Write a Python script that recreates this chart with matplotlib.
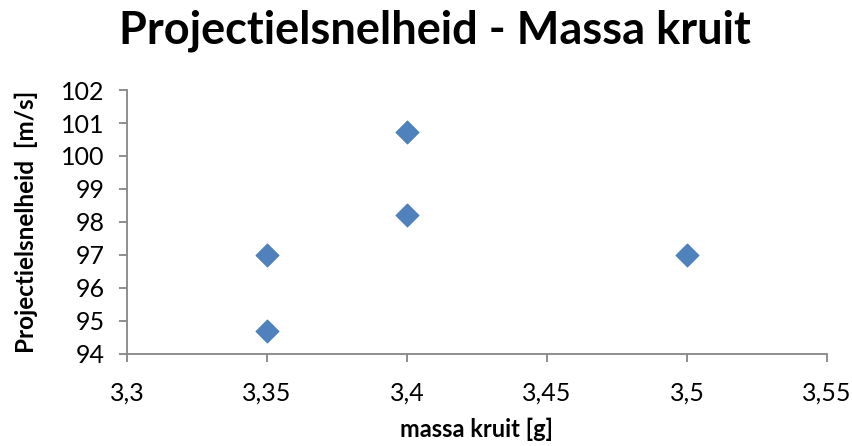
import matplotlib.pyplot as plt
from matplotlib.ticker import FuncFormatter

plt.rcParams["font.family"] = ["Lato", "DejaVu Sans"]

# measured values
massa = [3.35, 3.35, 3.40, 3.40, 3.50]
snelheid = [97.0, 94.7, 100.72, 98.2, 97.0]

x_ticks = [3.3, 3.35, 3.4, 3.45, 3.5, 3.55]
y_ticks = [94, 95, 96, 97, 98, 99, 100, 101, 102]

fig = plt.figure(figsize=(8.53, 4.46), dpi=100)
ax = fig.add_axes([0.1489, 0.2063, 0.8206, 0.5919])

ax.scatter(massa, snelheid, marker="D", s=135, color="#4F81BD",
           edgecolor="#4A7EBB", linewidth=0.8, zorder=3)

ax.set_xlim(3.3, 3.55)
ax.set_ylim(94, 102)
ax.set_xticks(x_ticks)
ax.set_yticks(y_ticks)


def komma(v, pos):
    s = f"{v:.2f}".rstrip("0").rstrip(".")
    return s.replace(".", ",")


ax.xaxis.set_major_formatter(FuncFormatter(komma))

for side in ["top", "right"]:
    ax.spines[side].set_visible(False)
for side in ["left", "bottom"]:
    ax.spines[side].set_color("#868686")
    ax.spines[side].set_linewidth(1.3)

ax.tick_params(axis="both", direction="out", length=6, width=1.3,
               color="#868686", labelsize=18, labelcolor="black")
ax.tick_params(axis="x", pad=14)
ax.tick_params(axis="y", pad=10)

ax.set_xlabel("massa kruit [g]", fontsize=17, fontweight="bold", labelpad=9)
ax.set_ylabel("Projectielsnelheid  [m/s]", fontsize=17.5, fontweight="bold",
              labelpad=17)

fig.text(0.51, 0.93, "Projectielsnelheid - Massa kruit", ha="center",
         va="center", fontsize=32.5, fontweight="bold")

fig.savefig("out.png", dpi=100)
